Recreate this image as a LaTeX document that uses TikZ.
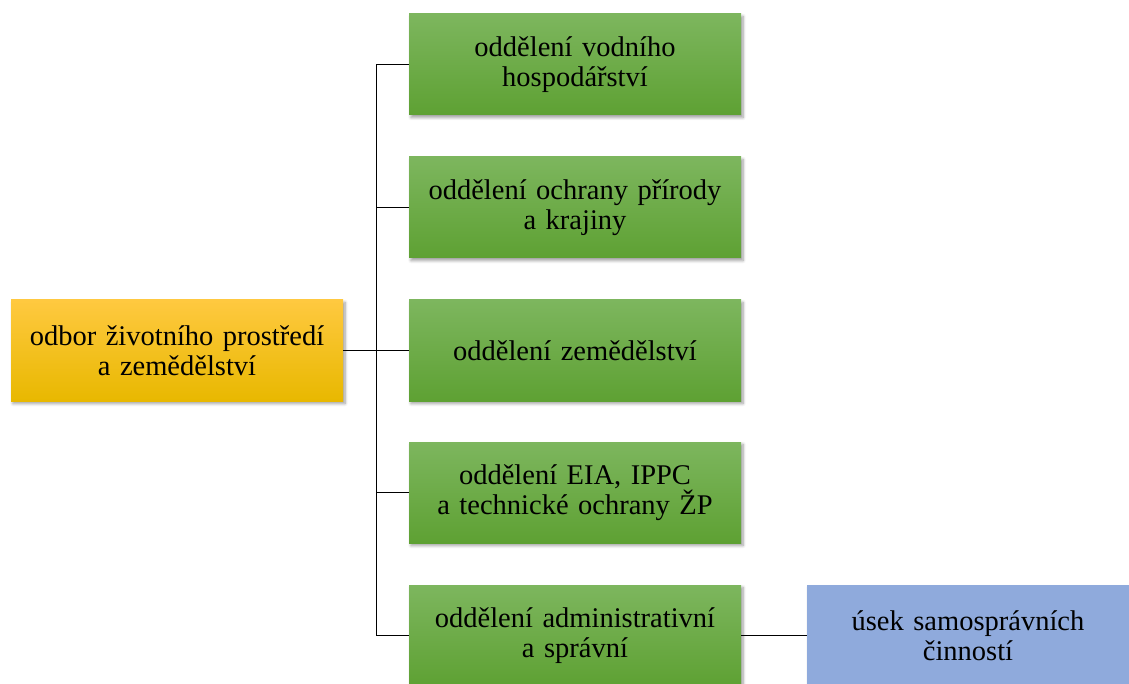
\documentclass[tikz,border=0pt]{standalone}
\usepackage{fontspec}
\setmainfont{Liberation Serif}
\usetikzlibrary{shadows.blur}
\definecolor{gtop}{HTML}{7DB65E}
\definecolor{gbot}{HTML}{5EA133}
\definecolor{ytop}{HTML}{FFC940}
\definecolor{ybot}{HTML}{E8B800}
\definecolor{bluebox}{HTML}{8FAADC}
\begin{document}
\begin{tikzpicture}[x=1pt,y=-1pt,
  box/.style={minimum width=332pt, minimum height=101pt, align=center, inner sep=0pt,
    font=\fontsize{28.5}{30}\selectfont, text width=326pt,
    blur shadow={shadow xshift=2pt, shadow yshift=-2.5pt, shadow blur steps=6, shadow blur radius=3pt}},
  gbox/.style={box, top color=gtop, bottom color=gbot},
  ybox/.style={box, top color=ytop, bottom color=ybot},
  bbox/.style={box, fill=bluebox, minimum width=322pt, text width=316pt},
  conn/.style={draw=black, line width=1pt}]
\useasboundingbox (0,0) rectangle (1129,684);
\node[ybox] (root) at (177,350.5) {odbor životního prostředí\\a zemědělství};
\node[gbox] (g1) at (575,64.5) {oddělení vodního\\hospodářství};
\node[gbox] (g2) at (575,207.5) {oddělení ochrany přírody\\a krajiny};
\node[gbox] (g3) at (575,350.5) {oddělení zemědělství};
\node[gbox] (g4) at (575,492.5) {oddělení EIA, IPPC\\a technické ochrany ŽP};
\node[gbox] (g5) at (575,635.5) {oddělení administrativní\\a správní};
\node[bbox] (b1) at (968,635.5) {úsek samosprávních\\činností};
\coordinate (t1) at (376,64.5);
\coordinate (t5) at (376,635.5);
\draw[conn] (root.east) -- (g3.west);
\draw[conn] (g1.west) -- (t1) -- (t5) -- (g5.west);
\draw[conn] (t1 |- g2.west) -- (g2.west);
\draw[conn] (t1 |- g4.west) -- (g4.west);
\draw[conn] (g5.east) -- (b1.west);
\end{tikzpicture}
\end{document}
